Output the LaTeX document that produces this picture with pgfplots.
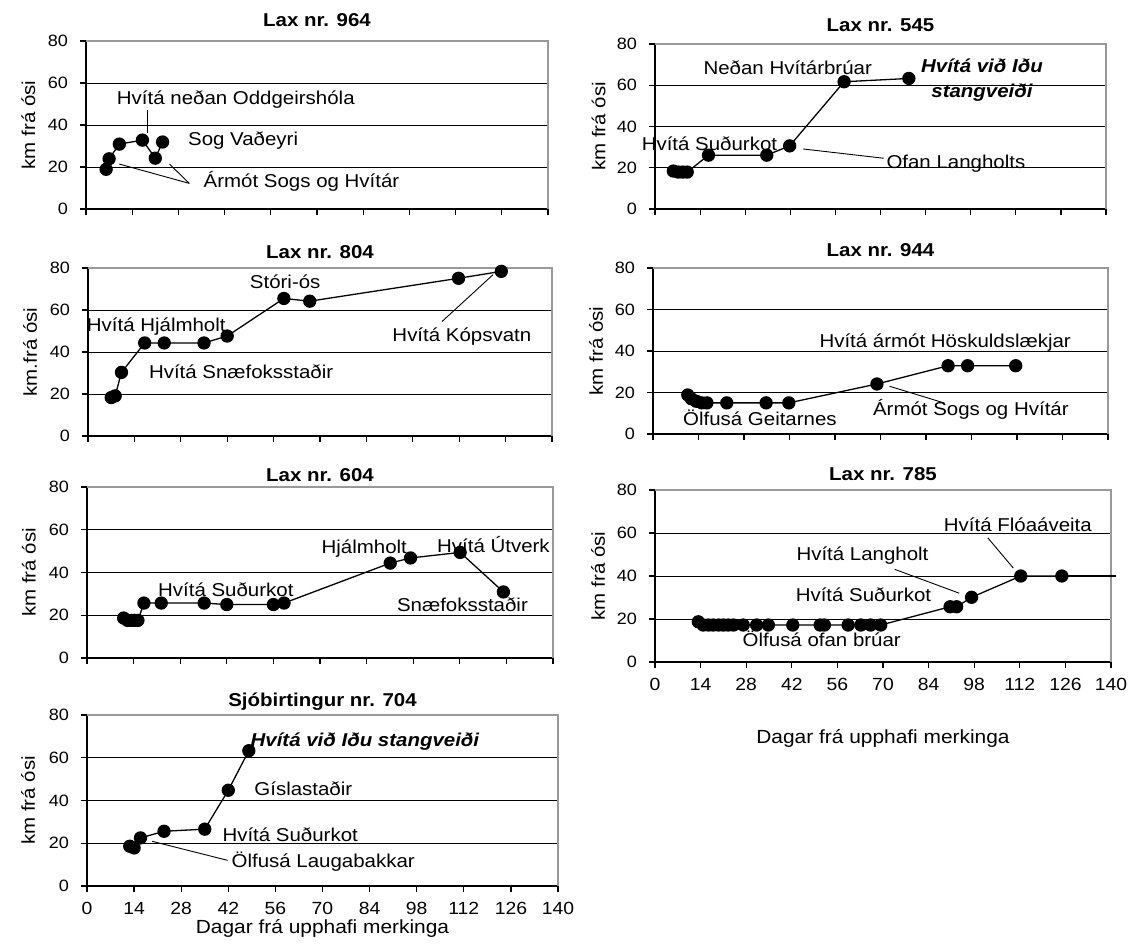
\documentclass[border=0pt]{standalone}
\usepackage{fontspec}
\setmainfont{Liberation Sans}[FakeStretch=1.1]
\usepackage{pgfplots}
\pgfplotsset{compat=1.18}

\pgfplotsset{
  panel/.style={
    scale only axis, clip=false,
    xmin=0, xmax=140, ymin=0, ymax=80,
    xtick={0,14,...,140}, ytick={0,20,...,80},
    axis x line*=bottom, axis y line*=left,
    axis line style={-, black, line width=0.6pt},
    tick align=outside, major tick length=3pt,
    tick style={black, line width=0.6pt},
    ymajorgrids, grid style={black, line width=0.45pt},
    yticklabel style={xshift=-2.5pt, font=\fontsize{8.2}{9}\selectfont},
    xticklabel style={yshift=-1.5pt, font=\fontsize{8.8}{10}\selectfont},
    /pgf/number format/assume math mode=true,
    every axis title/.style={at={(axis description cs:0.5,1)}, anchor=center,
      font=\bfseries\fontsize{9.3}{11}\selectfont},
    every axis y label/.style={at={(axis description cs:-0.125,0.5)},
      anchor=center, rotate=90, font=\fontsize{9.3}{11}\selectfont},
    every axis x label/.style={at={(axis description cs:0.5,0)},
      anchor=center, font=\fontsize{9.5}{11}\selectfont},
  },
  noxlabels/.style={xticklabels={}},
}
\tikzset{
  dat/.style={black, line width=0.65pt, mark=*, mark size=3pt,
    mark options={solid, draw=black, fill=black}},
  ann/.style={font=\fontsize{9.3}{12.5}\selectfont, inner sep=0pt, align=center},
  bann/.style={ann, font=\bfseries\itshape\fontsize{9.3}{12.5}\selectfont},
  leader/.style={black, line width=0.45pt},
  frame/.style={gray!80, line width=0.6pt},
}

\begin{document}
\begin{tikzpicture}
\useasboundingbox (0,0) rectangle (567.5pt,474.5pt);

% Lax nr. 964
\begin{axis}[panel, noxlabels, at={(43pt,370pt)}, anchor=south west,
  width=231pt, height=84pt, title={Lax nr. 964}, title style={yshift=10.5pt},
  ylabel={km frá ósi}]
\draw[frame] (rel axis cs:0,1) -- (rel axis cs:1,1) -- (rel axis cs:1,0);
\addplot[dat] coordinates {(6.1,18.9) (7.0,23.9) (10.1,30.9) (17.1,32.8) (21.0,24.2) (23.2,31.9)};
\node[ann] at (axis cs:45.4,52.3) {Hvítá neðan Oddgeirshóla};
\node[ann] at (axis cs:47.6,32.8) {Sog Vaðeyri};
\node[ann] at (axis cs:65.3,13.3) {Ármót Sogs og Hvítár};
\draw[leader] (axis cs:18.6,47.1) -- (axis cs:18.6,36.3);
\draw[leader] (axis cs:10.1,21.4) -- (axis cs:31.3,12.2);
\draw[leader] (axis cs:25.3,21.4) -- (axis cs:31.3,12.2);
\end{axis}

% Lax nr. 545
\begin{axis}[panel, noxlabels, at={(327.5pt,370pt)}, anchor=south west,
  width=225.5pt, height=82.5pt, title={Lax nr. 545}, title style={yshift=9.5pt},
  ylabel={km frá ósi}]
\draw[frame] (rel axis cs:0,1) -- (rel axis cs:1,1) -- (rel axis cs:1,0);
\addplot[dat] coordinates {(5.7,18.4) (7.2,17.9) (8.6,17.9) (10.0,17.9) (16.6,26.1)
  (34.7,26.1) (41.8,30.6) (58.7,61.7) (78.8,63.3)};
\node[ann] at (axis cs:41.2,68.3) {Neðan Hvítárbrúar};
\node[bann] at (axis cs:101.5,62.3) {Hvítá við Iðu\\stangveiði};
\node[ann] at (axis cs:16.9,31.6) {Hvítá Suðurkot};
\node[ann] at (axis cs:93.4,22.2) {Ofan Langholts};
\draw[leader] (axis cs:46.0,29.1) -- (axis cs:71.0,24.6);
\end{axis}

% Lax nr. 804
\begin{axis}[panel, noxlabels, at={(44pt,256.5pt)}, anchor=south west,
  width=232pt, height=84pt, title={Lax nr. 804}, title style={yshift=8pt},
  ylabel={km.frá ósi}]
\draw[frame] (rel axis cs:0,1) -- (rel axis cs:1,1) -- (rel axis cs:1,0);
\addplot[dat] coordinates {(7.0,18.3) (8.2,19.1) (10.1,30.3) (17.1,44.3) (23.0,44.3)
  (35.0,44.3) (42.0,47.6) (59.1,65.5) (66.9,64.2) (111.8,75.1) (124.7,78.4)};
\node[ann] at (axis cs:59.5,73.6) {Stóri-ós};
\node[ann] at (axis cs:20.6,52.1) {Hvítá Hjálmholt};
\node[ann] at (axis cs:46.2,30.6) {Hvítá Snæfoksstaðir};
\node[ann] at (axis cs:112.8,47.3) {Hvítá Kópsvatn};
\draw[leader] (axis cs:122.2,76.8) -- (axis cs:106.8,54.5);
\end{axis}

% Lax nr. 944
\begin{axis}[panel, noxlabels, at={(326.5pt,257.5pt)}, anchor=south west,
  width=227.5pt, height=83pt, title={Lax nr. 944}, title style={yshift=9pt},
  ylabel={km frá ósi}]
\draw[frame] (rel axis cs:0,1) -- (rel axis cs:1,1) -- (rel axis cs:1,0);
\addplot[dat] coordinates {(10.7,18.8) (11.8,17.0) (13.3,15.8) (15.0,15.0) (16.6,15.0)
  (22.7,15.0) (34.8,15.0) (41.8,15.0) (68.9,24.1) (90.8,32.9) (96.8,32.9) (111.6,32.9)};
\node[ann] at (axis cs:89.9,43.9) {Hvítá ármót Höskuldslækjar};
\node[ann] at (axis cs:32.9,8.0) {Ölfusá Geitarnes};
\node[ann] at (axis cs:97.8,11.7) {Ármót Sogs og Hvítár};
\draw[leader] (axis cs:72.8,23.0) -- (axis cs:89.7,14.9);
\end{axis}

% Lax nr. 604
\begin{axis}[panel, noxlabels, at={(43.5pt,145.5pt)}, anchor=south west,
  width=233pt, height=85.5pt, title={Lax nr. 604}, title style={yshift=6pt},
  ylabel={km frá ósi}]
\draw[frame] (rel axis cs:0,1) -- (rel axis cs:1,1) -- (rel axis cs:1,0);
\addplot[dat] coordinates {(11.0,18.7) (12.2,17.6) (13.3,17.6) (14.3,17.6) (15.3,17.6)
  (17.1,25.7) (22.3,25.7) (35.2,25.7) (42.0,25.0) (56.0,25.0) (59.2,25.7)
  (91.1,44.4) (97.2,46.8) (112.1,49.4) (125.1,30.9)};
\node[ann] at (axis cs:41.7,32.0) {Hvítá Suðurkot};
\node[ann] at (axis cs:83.3,51.1) {Hjálmholt};
\node[ann] at (axis cs:122.1,53.0) {Hvítá Útverk};
\node[ann] at (axis cs:112.8,25.0) {Snæfoksstaðir};
\end{axis}

% Lax nr. 785
\begin{axis}[panel, at={(327.5pt,143.5pt)}, anchor=south west,
  width=228pt, height=86pt, title={Lax nr. 785}, title style={yshift=8pt},
  ylabel={km frá ósi}, xlabel={Dagar frá upphafi merkinga},
  xlabel style={yshift=-38pt}]
\draw[frame] (rel axis cs:0,1) -- (rel axis cs:1,1) -- (rel axis cs:1,0);
\addplot[dat] coordinates {(13.3,18.7) (14.8,17.2) (16.4,17.2) (17.9,17.2) (19.5,17.2)
  (21.0,17.2) (22.5,17.2) (24.1,17.2) (27.1,17.2) (31.2,17.2) (34.8,17.2)
  (42.3,17.2) (50.7,17.2) (52.0,17.2) (59.3,17.2) (63.2,17.2) (66.2,17.2)
  (69.3,17.2) (90.6,25.7) (92.6,25.7) (97.2,30.1) (112.3,40.0) (124.9,40.0)};
\addplot[black, line width=0.65pt, mark=none] coordinates {(124.9,40.0) (141.5,40.0)};
\node[ann] at (axis cs:111.4,64.0) {Hvítá Flóaáveita};
\node[ann] at (axis cs:63.7,49.5) {Hvítá Langholt};
\node[ann] at (axis cs:64.0,31.3) {Hvítá Suðurkot};
\node[ann] at (axis cs:51.2,10.6) {Ölfusá ofan brúar};
\draw[leader] (axis cs:102.2,57.7) -- (axis cs:110.0,43.7);
\draw[leader] (axis cs:73.6,43.1) -- (axis cs:93.4,32.0);
\end{axis}

% Sjóbirtingur nr. 704
\begin{axis}[panel, at={(43.5pt,31.5pt)}, anchor=south west,
  width=235.5pt, height=85.5pt, title={Sjóbirtingur nr. 704}, title style={yshift=6.5pt},
  ylabel={km frá ósi}, xlabel={Dagar frá upphafi merkinga},
  xlabel style={yshift=-21pt}]
\draw[frame] (rel axis cs:0,1) -- (rel axis cs:1,1) -- (rel axis cs:1,0);
\addplot[dat] coordinates {(12.7,18.6) (14.0,17.8) (15.9,22.5) (22.9,25.6) (35.0,26.6)
  (42.0,44.8) (48.1,63.3)};
\node[bann] at (axis cs:82.6,67.5) {Hvítá við Iðu stangveiði};
\node[ann] at (axis cs:64.3,45.6) {Gíslastaðir};
\node[ann] at (axis cs:60.4,24.2) {Hvítá Suðurkot};
\node[ann] at (axis cs:70.2,11.25) {Ölfusá Laugabakkar};
\draw[leader] (axis cs:19.4,20.9) -- (axis cs:41.8,12.0);
\end{axis}
\end{tikzpicture}
\end{document}
